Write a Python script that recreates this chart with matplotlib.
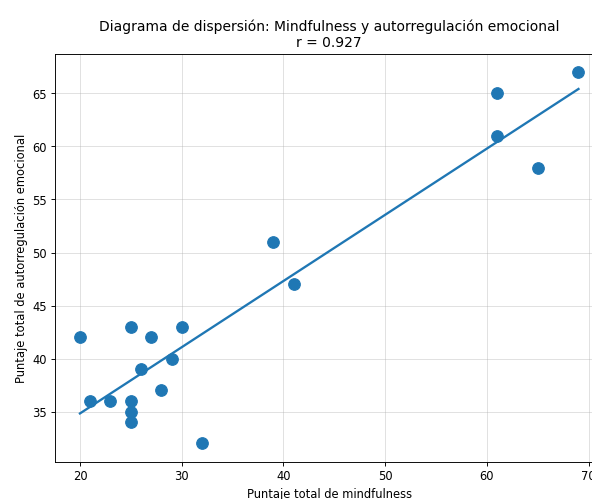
import numpy as np
import matplotlib.pyplot as plt

# === DATA ===
mindfulness = [20, 21, 23, 25, 25, 25, 25, 26, 27, 28, 29, 30, 32, 39, 41, 61, 61, 65, 69]
autorregulacion = [42, 36, 36, 43, 36, 35, 34, 39, 42, 37, 40, 43, 32, 51, 47, 65, 61, 58, 67]

x = np.array(mindfulness)
y = np.array(autorregulacion)
r = 0.927

# regression line
m, b = np.polyfit(x, y, 1)
xs = np.array([x.min(), x.max()])

# reference looks like an 8x6 figure shrunk to ~83 dpi and cropped on the right
DPI = 83.2
fig = plt.figure(figsize=(592.4 / DPI, 499.4 / DPI), dpi=DPI)
ax = fig.add_axes([55 / 592, 37 / 499, 548 / 592, 408 / 499])

ax.scatter(x, y, s=100, color="#1f77b4", zorder=3)
ax.plot(xs, m * xs + b, color="#1f77b4", linewidth=2, zorder=2)

ax.set_xticks([20, 30, 40, 50, 60, 70])
ax.set_yticks([35, 40, 45, 50, 55, 60, 65])
ax.grid(True, alpha=0.4)
ax.set_axisbelow(True)

ax.set_xlabel("Puntaje total de mindfulness")
ax.set_ylabel("Puntaje total de autorregulación emocional")
ax.set_title("Diagrama de dispersión: Mindfulness y autorregulación emocional\n"
             f"r = {r:.3f}", fontsize=12)

fig.savefig("out.png", dpi=DPI)
